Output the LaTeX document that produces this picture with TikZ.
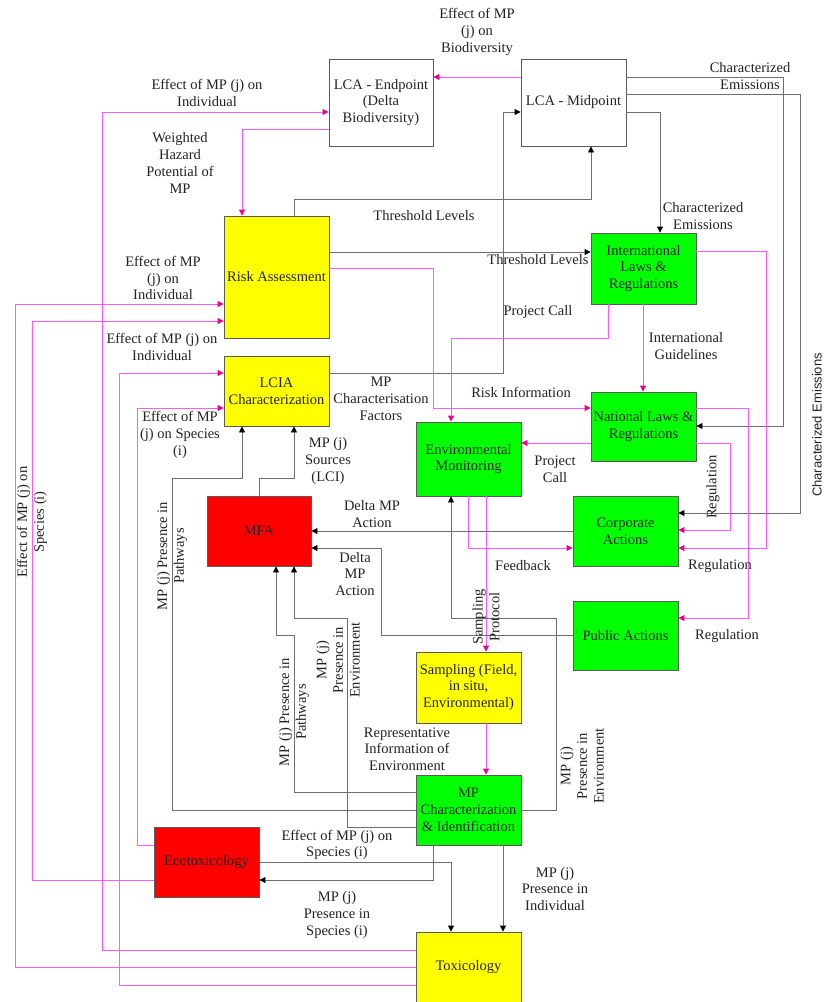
\documentclass[tikz,border=0pt]{standalone}
\usepackage{fontspec}
\setmainfont{Liberation Serif}
\newfontfamily\arialf{Liberation Sans}
\usetikzlibrary{arrows.meta}
\definecolor{gfill}{RGB}{0,255,0}
\definecolor{yfill}{RGB}{255,255,0}
\definecolor{rfill}{RGB}{255,0,0}
\definecolor{bord}{RGB}{90,90,90}
\definecolor{pkc}{RGB}{255,90,255}
\definecolor{gyc}{RGB}{110,110,110}
\definecolor{txt}{RGB}{35,35,35}
\newcommand\lblf{\fontsize{14.5}{16.7}\selectfont}
\begin{document}
\begin{tikzpicture}[x=1pt,y=-1pt,
 box/.style={draw=bord, line width=0.9pt, align=center, inner sep=1pt, font=\lblf, text=txt, minimum width=105pt},
 lab/.style={align=center, inner sep=0pt, font=\lblf, text=txt},
 pk/.style={draw=pkc, line width=0.9pt, -{Triangle[length=6pt,width=6pt,color=magenta]}},
 gy/.style={draw=gyc, line width=0.9pt, -{Triangle[length=6pt,width=6pt,color=black]}},
]
\fill[white] (0,0) rectangle (824,1002);
\useasboundingbox (0,0) rectangle (824,1002);

% boxes
\node[box, fill=white, minimum width=104pt, minimum height=87pt] (endp) at (381,102.5) {LCA - Endpoint\\(Delta\\Biodiversity)};
\node[box, fill=white, minimum height=87pt] (midp) at (573.5,102.5) {LCA - Midpoint};
\node[box, fill=yfill, minimum height=122pt] (risk) at (276.5,277) {Risk Assessment};
\node[box, fill=yfill, minimum height=70pt] (lcia) at (276.5,391) {LCIA\\Characterization};
\node[box, fill=gfill, minimum height=71pt] (intl) at (643.5,268.5) {International\\Laws \&\\Regulations};
\node[box, fill=gfill, minimum height=69pt] (natl) at (643.5,426.5) {National Laws \&\\Regulations};
\node[box, fill=gfill, minimum height=74pt] (env) at (468.5,459) {Environmental\\Monitoring};
\node[box, fill=gfill, minimum height=70pt] (corp) at (625.5,531) {Corporate\\Actions};
\node[box, fill=gfill, minimum height=69pt] (pub) at (625.5,635.5) {Public Actions};
\node[box, fill=rfill, minimum width=104pt, minimum height=70pt] (mfa) at (259,531) {MFA};
\node[box, fill=yfill, minimum height=71pt] (samp) at (468.5,687.5) {Sampling (Field,\\in situ,\\Environmental)};
\node[box, fill=gfill, minimum height=70pt] (mpc) at (468.5,810) {MP\\Characterization\\\& Identification};
\node[box, fill=rfill, minimum height=70pt] (eco) at (206.5,862) {Ecotoxicology};
\node[box, fill=yfill, minimum height=70pt] (tox) at (468.5,967) {Toxicology};

% connectors
\draw[pk] (midp.west |- 0,77) -- (endp.east |- 0,77);
\draw[pk] (tox.west |- 0,950) -| (102,112) -- (endp.west |- 0,112);
\draw[pk] (endp.west |- 0,129) -| (risk.north -| 242,0);
\draw[gy] (risk.north -| 294,0) -- (294,199) -| (midp.south -| 591,0);
\draw[gy] (lcia.east |- 0,373) -| (503,112) -- (midp.west |- 0,112);
\draw[gy] (midp.east |- 0,112) -| (intl.north -| 660,0);
\draw[gy] (midp.east |- 0,77) -| (783,426) -- (natl.east |- 0,426);
\draw[gy] (midp.east |- 0,94) -| (800,513) -- (corp.east |- 0,513);
\draw[gy] (risk.east |- 0,252) -- (intl.west |- 0,252);
\draw[pk] (risk.east |- 0,268) -| (433,408) -- (natl.west |- 0,408);
\draw[pk] (intl.south -| 608,0) |- (451,338) -- (env.north -| 451,0);
\draw[pk] (intl.south -| 643,0) -- (natl.north -| 643,0);
\draw[pk] (intl.east |- 0,251) -| (766,548) -- (corp.east |- 0,548);
\draw[pk] (natl.east |- 0,408) -| (748,618) -- (pub.east |- 0,618);
\draw[pk] (natl.east |- 0,443) -| (730,530) -- (corp.east |- 0,530);
\draw[pk] (natl.west |- 0,443) -- (env.east |- 0,443);
\draw[pk] (env.south -| 468,0) |- (corp.west |- 0,548);
\draw[pk] (env.south -| 486,0) -- (samp.north -| 486,0);
\draw[gy] (corp.west |- 0,531) -- (mfa.east |- 0,531);
\draw[gy] (pub.west |- 0,635) -| (381,548) -- (mfa.east |- 0,548);
\draw[gy] (mpc.east |- 0,810) -| (556,618) -| (env.south -| 451,0);
\draw[gy] (mpc.west |- 0,792) -| (294,635) -| (mfa.south -| 276,0);
\draw[gy] (mpc.west |- 0,827) -| (347,618) -| (mfa.south -| 294,0);
\draw[gy] (mpc.west |- 0,810) -| (172,478) -| (lcia.south -| 242,0);
\draw[gy] (mfa.north -| 259,0) |- (294,478) -- (lcia.south -| 294,0);
\draw[pk] (samp.south -| 486,0) -- (mpc.north -| 486,0);
\draw[gy] (mpc.south -| 433,0) |- (eco.east |- 0,880);
\draw[gy] (eco.east |- 0,862) -| (tox.north -| 451,0);
\draw[gy] (mpc.south -| 503,0) -- (tox.north -| 503,0);
\draw[pk] (eco.west |- 0,845) -| (137,408) -- (lcia.west |- 0,408);
\draw[pk] (eco.west |- 0,880) -| (32,321) -- (risk.west |- 0,321);
\draw[pk] (tox.west |- 0,967) -| (15,304) -- (risk.west |- 0,304);
\draw[pk] (tox.west |- 0,985) -| (119,373) -- (lcia.west |- 0,373);

% labels
\node[lab] (t1) at (477,32) {Effect of MP\\(j) on\\Biodiversity};
\node[lab] (t2) at (207,93) {Effect of MP (j) on\\Individual};
\node[lab] (t3) at (180,163) {Weighted\\Hazard\\Potential of\\MP};
\node[lab] (t4) at (424,216) {Threshold Levels};
\node[lab] (t5) at (381,399) {MP\\Characterisation\\Factors};
\node[lab] (t6) at (703,216) {Characterized\\Emissions};
\node[lab] (t7) at (750,76) {Characterized\\Emissions};
\node[lab, font=\arialf\fontsize{13}{15}\selectfont, rotate=90] (t8) at (817,425) {Characterized Emissions};
\node[lab] (t9) at (538,260) {Threshold Levels};
\node[lab] (t10) at (521,392) {Risk Information};
\node[lab] (t11) at (538,312) {Project Call};
\node[lab] (t12) at (686,346) {International\\Guidelines};
\node[lab] (t13) at (720,566) {Regulation};
\node[lab] (t14) at (727,636) {Regulation};
\node[lab, rotate=90] (t15) at (713,487) {Regulation};
\node[lab] (t16) at (555,469) {Project\\Call};
\node[lab] (t17) at (523,566) {Feedback};
\node[lab, rotate=90] (t18) at (486,617) {Sampling\\Protocol};
\node[lab] (t19) at (372,514) {Delta MP\\Action};
\node[lab] (t20) at (355,574) {Delta\\MP\\Action};
\node[lab, rotate=90] (t21) at (582,766) {MP (j)\\Presence in\\Environment};
\node[lab, rotate=90] (t22) at (294,712) {MP (j) Presence in\\Pathways};
\node[lab, rotate=90] (t23) at (338,660) {MP (j)\\Presence in\\Environment};
\node[lab, rotate=90] (t24) at (172,556) {MP (j) Presence in\\Pathways};
\node[lab] (t25) at (328,461) {MP (j)\\Sources\\(LCI)};
\node[lab] (t26) at (407,749) {Representative\\Information of\\Environment};
\node[lab] (t27) at (337,915) {MP (j)\\Presence in\\Species (i)};
\node[lab] (t28) at (337,845) {Effect of MP (j) on\\Species (i)};
\node[lab] (t29) at (555,889) {MP (j)\\Presence in\\Individual};
\node[lab] (t30) at (180,435) {Effect of MP\\(j) on Species\\(i)};
\node[lab] (t31) at (162,347) {Effect of MP (j) on\\Individual};
\node[lab] (t32) at (163,278) {Effect of MP\\(j) on\\Individual};
\node[lab, rotate=90] (t33) at (32,522) {Effect of MP (j) on\\Species (i)};
\end{tikzpicture}
\end{document}
